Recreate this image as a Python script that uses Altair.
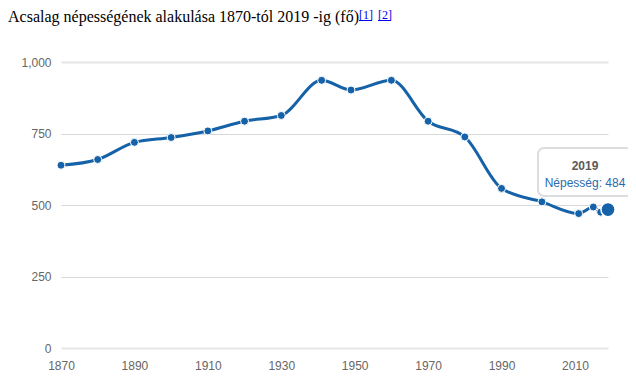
import altair as alt
import pandas as pd

# ---- data ----
years = [1870, 1880, 1890, 1900, 1910, 1920, 1930, 1941, 1949, 1960,
         1970, 1980, 1990, 2001, 2011, 2015, 2017, 2019]
population = [639, 659, 719, 736, 759, 793, 813, 936, 902, 936,
              793, 738, 558, 511, 470, 493, 475, 484]
x_ticks = [1870, 1890, 1910, 1930, 1950, 1970, 1990, 2010]
y_ticks = [0, 250, 500, 750, 1000]
title_text = ["Acsalag népességének alakulása 1870-tól 2019 -ig (fő)"]
refs = ["[1]", "[2]"]
series_label = "Népesség"

LINE = "#1562a8"
df = pd.DataFrame({"year": years, "pop": population})
last = df.tail(1)

x = alt.X("year:Q",
          scale=alt.Scale(domain=[1870, 2019], nice=False, zero=False),
          axis=alt.Axis(values=x_ticks, format="d", title=None, grid=False,
                        domain=False, ticks=False, labelPadding=12, labelFlush=False,
                        labelColor="#666666", labelFont="Liberation Sans",
                        labelFontSize=12))
y = alt.Y("pop:Q",
          scale=alt.Scale(domain=[0, 1000], nice=False),
          axis=alt.Axis(values=y_ticks, format=",d", title=None,
                        domain=False, ticks=False, labelPadding=10,
                        labelColor="#666666", labelFont="Liberation Sans",
                        labelFontSize=12,
                        gridColor={"condition": {"test": "datum.value === 0 || datum.value === 1000", "value": "#e6e6e6"}, "value": "#d8d8d8"},
                        gridWidth={"condition": {"test": "datum.value === 0 || datum.value === 1000", "value": 2}, "value": 1}))

base = alt.Chart(df)
line = base.mark_line(interpolate="monotone", color=LINE, strokeWidth=3).encode(x=x, y=y)
pts = base.mark_point(filled=True, fill=LINE, stroke="white", strokeWidth=1,
                      size=64, opacity=1).encode(x=x, y=y)
hi = alt.Chart(last).mark_point(filled=True, fill=LINE, stroke="white",
                                strokeWidth=1.5, size=200, opacity=1).encode(x=x, y=y)

# tooltip box
tip_box = alt.Chart(last).mark_rect(fill="white", fillOpacity=0.9, stroke="#dddddd",
                                    strokeWidth=2, cornerRadius=6).encode(
    x=alt.value(477), x2=alt.value(571), y=alt.value(86), y2=alt.value(134))
tip_year = alt.Chart(last).mark_text(font="Liberation Sans", fontSize=12, fontWeight="bold",
                                     color="#5a5a5a", align="center", baseline="alphabetic").encode(
    x=alt.value(524), y=alt.value(108), text=alt.Text("year:Q", format="d"))
tip_val = alt.Chart(last).transform_calculate(
    lbl=f"'{series_label}: ' + datum.pop").mark_text(
    font="Liberation Sans", fontSize=12, color="#2a6aae", align="center",
    baseline="alphabetic").encode(x=alt.value(524), y=alt.value(124.5), text="lbl:N")

# title with reference superscripts
title = alt.Chart(pd.DataFrame({"t": title_text})).mark_text(
    font="Liberation Serif", fontSize=16, color="black", align="left",
    baseline="alphabetic").encode(x=alt.value(-53), y=alt.value(-40), text="t:N")
ref_pos = [298, 317]
ref_text = alt.layer(*[
    alt.Chart(pd.DataFrame({"r": [r]})).mark_text(
        font="Liberation Serif", fontSize=12, color="#0000ee", align="left",
        baseline="alphabetic").encode(x=alt.value(px), y=alt.value(-43), text="r:N")
    for r, px in zip(refs, ref_pos)
])
ref_lines = alt.layer(*[
    alt.Chart(pd.DataFrame({"r": [r]})).mark_rule(color="#0000ee", strokeWidth=1).encode(
        x=alt.value(px), x2=alt.value(px + 13), y=alt.value(-41.5))
    for r, px in zip(refs, ref_pos)
])

chart = alt.layer(line, pts, hi, tip_box, tip_year, tip_val, title, ref_text, ref_lines).properties(
    width=547, height=286,
    autosize=alt.AutoSizeParams(type="none"),
    padding={"left": 53, "top": 54, "right": 20, "bottom": 30},
).configure_view(stroke=None)

chart.save("out.html", embed_options={"renderer": "svg", "actions": False})
